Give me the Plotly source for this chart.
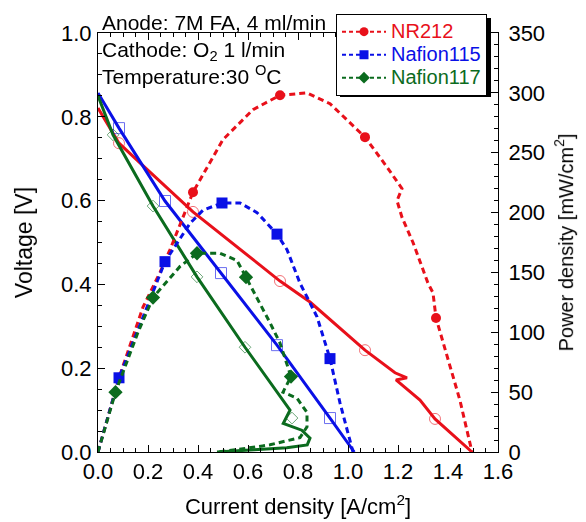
import plotly.graph_objects as go

# --- NR212 ---
nr_i = [0, 0.084, 0.168, 0.38, 0.648, 0.728, 0.848, 1.068, 1.188, 1.236, 1.192, 1.288, 1.348, 1.496]
nr_v = [0.821, 0.737, 0.69, 0.573, 0.446, 0.408, 0.358, 0.243, 0.189, 0.177, 0.172, 0.124, 0.079, 0]
nr_pi = [0, 0.084, 0.18, 0.248, 0.288, 0.38, 0.5, 0.62, 0.728, 0.836, 0.928, 1.068, 1.156,
         1.216, 1.196, 1.216, 1.26, 1.32, 1.34, 1.352, 1.448, 1.496]
nr_p = [0, 62, 121, 150, 169, 217, 261, 286, 298, 300, 291, 263, 238,
        220, 210, 196, 175, 141, 133, 112, 43, 0]
nr_mk_i = [0.084, 0.38, 0.728, 1.068, 1.348]
nr_mk_v = [0.737, 0.573, 0.408, 0.243, 0.079]
nr_mk_pi = [0.084, 0.38, 0.728, 1.068, 1.352]
nr_mk_p = [62, 217, 298, 263, 112]

# --- Nafion115 ---
n115_i = [0, 0.084, 0.268, 0.492, 0.716, 0.928, 1.025]
n115_v = [0.857, 0.773, 0.599, 0.427, 0.255, 0.081, 0]
n115_pi = [0, 0.084, 0.268, 0.368, 0.42, 0.496, 0.568, 0.636, 0.716, 0.756, 0.808, 0.876, 0.928, 0.968, 1.02]
n115_p = [0, 62, 159, 191, 202, 208, 208, 200, 182, 169, 141, 113, 78, 41, 0]
n115_mk_i = [0.084, 0.268, 0.492, 0.716, 0.928]
n115_mk_v = [0.773, 0.599, 0.427, 0.255, 0.081]
n115_mk_pi = [0.084, 0.268, 0.496, 0.716, 0.928]
n115_mk_p = [62, 159, 208, 182, 78]

# --- Nafion117 ---
n117_i = [0, 0.06, 0.22, 0.396, 0.588, 0.735, 0.768, 0.741, 0.815, 0.848, 0.837, 0.755, 0.621, 0.476]
n117_v = [0.85, 0.757, 0.587, 0.418, 0.25, 0.128, 0.1, 0.068, 0.052, 0.033, 0.017, 0.01, 0.005, 0]
n117_pi = [0, 0.07, 0.16, 0.22, 0.328, 0.396, 0.488, 0.556, 0.592, 0.62, 0.688, 0.728, 0.772,
           0.74, 0.796, 0.836, 0.836, 0.808, 0.688, 0.556, 0.48]
n117_p = [0, 50, 100, 129, 155, 166, 166, 160, 146, 135, 108, 91, 63,
          50, 45, 33, 21, 12, 6, 2, 0]
n117_mk_i = [0.06, 0.22, 0.396, 0.588, 0.776]
n117_mk_v = [0.757, 0.587, 0.418, 0.25, 0.081]
n117_mk_pi = [0.07, 0.22, 0.396, 0.592, 0.772]
n117_mk_p = [50, 129, 166, 146, 63]

RED, BLUE, GREEN = "#e8101a", "#0a10e6", "#0b6b1e"
FONT = "Liberation Sans, Arial, sans-serif"
DASH = "6px,4px"

series = [
    ("NR212", RED, "circle", 10, 11,
     nr_i, nr_v, nr_pi, nr_p, nr_mk_i, nr_mk_v, nr_mk_pi, nr_mk_p),
    ("Nafion115", BLUE, "square", 11, 11,
     n115_i, n115_v, n115_pi, n115_p, n115_mk_i, n115_mk_v, n115_mk_pi, n115_mk_p),
    ("Nafion117", GREEN, "diamond", 11, 9,
     n117_i, n117_v, n117_pi, n117_p, n117_mk_i, n117_mk_v, n117_mk_pi, n117_mk_p),
]

fig = go.Figure()
for name, col, sym, ms, oms, vi, vv, pi, pp, mvi, mvv, mpi, mpp in series:
    # polarization curve (solid, open markers)
    fig.add_trace(go.Scatter(x=vi, y=vv, mode="lines", line=dict(color=col, width=3),
                             showlegend=False, yaxis="y"))
    fig.add_trace(go.Scatter(x=mvi, y=mvv, mode="markers", opacity=0.6,
                             marker=dict(symbol=sym + "-open", size=oms, color=col, line=dict(width=1)),
                             showlegend=False, yaxis="y"))
    # power density (dashed, filled markers)
    fig.add_trace(go.Scatter(x=pi, y=pp, mode="lines", line=dict(color=col, width=3, dash=DASH),
                             showlegend=False, yaxis="y2"))
    fig.add_trace(go.Scatter(x=mpi, y=mpp, mode="markers",
                             marker=dict(symbol=sym, size=ms, color=col),
                             showlegend=False, yaxis="y2"))
    # legend entry (bigger text than the row spacing font)
    fig.add_trace(go.Scatter(x=[None], y=[None], mode="lines+markers",
                             name=f"<span style='color:{col};font-size:20px'>{name}</span>",
                             line=dict(color=col, width=2, dash="4px,3px"),
                             marker=dict(symbol=sym, size=9, color=col), yaxis="y2"))

axis_common = dict(showline=True, linecolor="black", linewidth=1, ticks="inside", ticklen=7,
                   tickcolor="black", showgrid=False, zeroline=False,
                   tickfont=dict(size=22, color="black"))

# page body adds an 8px offset, so the figure is drawn 8px smaller
fig.update_layout(
    width=578, height=514,
    margin=dict(l=90, r=88, t=25, b=70, autoexpand=False),
    paper_bgcolor="white", plot_bgcolor="white",
    font=dict(family=FONT, color="black"),
    xaxis=dict(axis_common, range=[0, 1.6], dtick=0.2, tickformat=".1f", mirror="ticks",
               minor=dict(dtick=0.05, ticks="inside", ticklen=4, tickcolor="black"),
               title=dict(text="Current density [A/cm<sup>2</sup>]", standoff=15,
                          font=dict(size=22, color="black"))),
    yaxis=dict(axis_common, range=[0, 1.0], dtick=0.2, tickformat=".1f", ticklabelstandoff=1,
               minor=dict(dtick=0.05, ticks="inside", ticklen=4, tickcolor="black"),
               title=dict(text="Voltage [V]", standoff=22, font=dict(size=23, color="black"))),
    yaxis2=dict(axis_common, range=[0, 350], dtick=50, overlaying="y", side="right",
                ticklabelstandoff=5,
                minor=dict(dtick=10, ticks="inside", ticklen=4, tickcolor="black"),
                title=dict(text="Power density [mW/cm<sup>2</sup>]", standoff=14,
                           font=dict(size=20, color="black"))),
    legend=dict(x=0.595, y=1.045, xanchor="left", yanchor="top", bgcolor="white",
                bordercolor="black", borderwidth=1, font=dict(size=15.4, family=FONT),
                tracegroupgap=0, itemwidth=44),
)

# legend drop shadow (pixel box of the legend converted to paper coords)
def px_x(p):
    return (p - 98) / 400

def px_y(p):
    return (452 - p) / 419

fig.add_shape(type="rect", xref="paper", yref="paper", layer="above",
              x0=px_x(340), x1=px_x(491), y0=px_y(97), y1=px_y(18),
              fillcolor="black", line=dict(width=0))

notes = [("Anode: 7M FA, 4 ml/min", 1.026),
         ("Cathode: O<sub>2</sub> 1 l/min", 0.958),
         ("Temperature:30 <sup>O</sup>C", 0.899)]
for txt, yy in notes:
    fig.add_annotation(text=txt, xref="paper", yref="paper", x=0.005, y=yy,
                       xanchor="left", yanchor="middle", showarrow=False,
                       font=dict(size=21, family=FONT, color="black"))

fig.write_html("out.html")
